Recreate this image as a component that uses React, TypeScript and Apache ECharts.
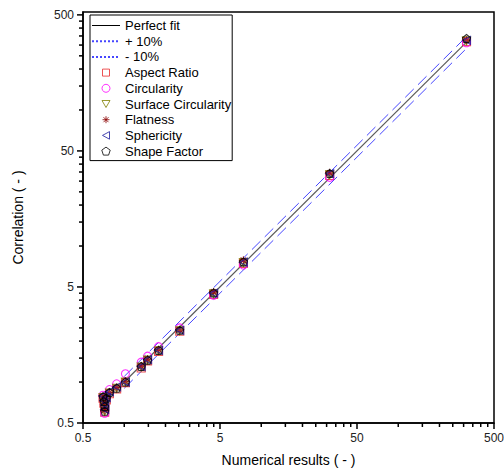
import React, { useEffect, useRef } from 'react';
import * as echarts from 'echarts';

// Axis ranges and tick values
const X_MIN = 0.5;
const X_MAX = 500;
const Y_MIN = 0.5;
const Y_MAX = 525;
const majorTicks = [0.5, 5, 50, 500];
const minorTicks = [
  1, 1.5, 2, 2.5, 3, 3.5, 4, 4.5,
  10, 15, 20, 25, 30, 35, 40, 45,
  100, 150, 200, 250, 300, 350, 400, 450,
];

// Reference lines
const fitX = [1.0, 315];
const fitY = [1.0, 315];
const plus10Y = [1.1, 346.5];
const minus10Y = [0.9, 283.5];

// Numerical results (x) shared by all correlations
const numerical = [0.70, 0.71, 0.72, 0.72, 0.74, 0.78, 0.88, 1.02, 1.33, 1.48, 1.78, 2.54, 4.49, 7.41, 31.6, 315];

// Correlation values (y)
const aspectRatio = [0.76, 0.70, 0.65, 0.60, 0.74, 0.82, 0.89, 0.99, 1.27, 1.43, 1.68, 2.36, 4.40, 7.45, 33.0, 318];
const circularity = [0.80, 0.74, 0.66, 0.59, 0.79, 0.88, 0.97, 1.15, 1.40, 1.55, 1.82, 2.50, 4.35, 7.25, 32.0, 312];
const surfaceCircularity = [0.77, 0.71, 0.66, 0.61, 0.75, 0.83, 0.90, 1.00, 1.29, 1.45, 1.70, 2.38, 4.45, 7.55, 33.5, 322];
const flatness = [0.78, 0.72, 0.67, 0.62, 0.76, 0.84, 0.91, 1.01, 1.31, 1.47, 1.73, 2.42, 4.60, 7.85, 34.5, 326];
const sphericity = [0.79, 0.73, 0.68, 0.63, 0.77, 0.85, 0.92, 1.00, 1.30, 1.46, 1.71, 2.40, 4.50, 7.60, 34.0, 325];
const shapeFactor = [0.78, 0.72, 0.66, 0.61, 0.76, 0.84, 0.90, 1.00, 1.30, 1.45, 1.71, 2.40, 4.52, 7.65, 34.2, 335];

const FONT = 'Liberation Sans, Arial, sans-serif';

const ASTERISK = 'path://M5,0L5,10M0,5L10,5M1.5,1.5L8.5,8.5M1.5,8.5L8.5,1.5';
const PENTAGON = 'path://M5,0L9.76,3.45L7.94,9.05L2.06,9.05L0.24,3.45Z';

// Legend icons (drawn inside a 28x8 box, symbol centred)
const ICON_RECT = 'path://M0,0M28,8M10.5,0.5L17.5,0.5L17.5,7.5L10.5,7.5Z';
const ICON_DOWN = 'path://M0,0M28,8M10,0.5L18,0.5L14,7.5Z';
const ICON_LEFT = 'path://M0,0M28,8M10.5,4L17.5,0.2L17.5,7.8Z';
const ICON_STAR = 'path://M0,0M28,8M14,0.5L14,7.5M10.5,4L17.5,4M11.5,1.5L16.5,6.5M11.5,6.5L16.5,1.5';

const scatterDefs = [
  { name: 'Aspect Ratio', ys: aspectRatio, color: '#e8282a', symbol: 'rect', rotate: 0, icon: ICON_RECT },
  { name: 'Circularity', ys: circularity, color: '#ff00ff', symbol: 'circle', rotate: 0, icon: 'circle' },
  { name: 'Surface Circularity', ys: surfaceCircularity, color: '#808000', symbol: 'triangle', rotate: 180, icon: ICON_DOWN },
  { name: 'Flatness', ys: flatness, color: '#8b0000', symbol: ASTERISK, rotate: 0, icon: ICON_STAR },
  { name: 'Sphericity', ys: sphericity, color: '#1c1c9c', symbol: 'triangle', rotate: 90, icon: ICON_LEFT },
  { name: 'Shape Factor', ys: shapeFactor, color: '#000000', symbol: PENTAGON, rotate: 0, icon: PENTAGON },
];

function tickSeries(values: number[], axis: 'x' | 'y', len: number) {
  return {
    type: 'custom',
    coordinateSystem: 'cartesian2d',
    silent: true,
    z: 6,
    clip: false,
    data: values.map((v) => (axis === 'x' ? [v, Y_MIN] : [X_MIN, v])),
    renderItem: (_params: any, api: any) => {
      const p = api.coord([api.value(0), api.value(1)]);
      const shape =
        axis === 'x'
          ? { x1: p[0], y1: p[1], x2: p[0], y2: p[1] + len }
          : { x1: p[0], y1: p[1], x2: p[0] - len, y2: p[1] };
      return { type: 'line', shape, style: { stroke: '#000', lineWidth: 1.5 } };
    },
  };
}

export default function App() {
  const ref = useRef<HTMLDivElement>(null);
  useEffect(() => {
    if (!ref.current) return;
    const chart = echarts.init(ref.current, undefined, { renderer: 'svg' });
    const lineSeries = [
      {
        name: 'Perfect fit',
        type: 'line',
        data: fitX.map((x, i) => [x, fitY[i]]),
        symbol: 'none',
        showSymbol: false,
        lineStyle: { color: '#5a5a5a', width: 1.2 },
        itemStyle: { color: '#5a5a5a' },
        z: 1,
      },
      {
        name: '+ 10%',
        type: 'line',
        data: fitX.map((x, i) => [x, plus10Y[i]]),
        symbol: 'none',
        showSymbol: false,
        lineStyle: { color: '#4646ff', width: 1, type: [12, 6] },
        itemStyle: { color: '#4646ff' },
        z: 1,
      },
      {
        name: '- 10%',
        type: 'line',
        data: fitX.map((x, i) => [x, minus10Y[i]]),
        symbol: 'none',
        showSymbol: false,
        lineStyle: { color: '#4646ff', width: 1, type: [12, 6] },
        itemStyle: { color: '#4646ff' },
        z: 1,
      },
    ];
    const scatters = scatterDefs.map((d) => ({
      name: d.name,
      type: 'scatter',
      data: numerical.map((x, i) => [x, d.ys[i]]),
      symbol: d.symbol,
      symbolRotate: d.rotate,
      symbolSize: 8,
      itemStyle: { color: 'rgba(0,0,0,0)', borderColor: d.color, borderWidth: 1.1 },
      z: 3,
    }));
    chart.setOption({
      animation: false,
      backgroundColor: '#fff',
      textStyle: { fontFamily: FONT },
      grid: {
        left: 83,
        right: 10,
        top: 12,
        bottom: 49,
        outerBoundsMode: 'none',
        containLabel: false,
        show: true,
        borderColor: '#000',
        borderWidth: 1.5,
        backgroundColor: 'transparent',
      },
      legend: {
        orient: 'vertical',
        left: 90,
        top: 15,
        padding: [4, 1, 3, 1],
        itemWidth: 28,
        itemHeight: 8,
        itemGap: 2.7,
        backgroundColor: '#fff',
        borderColor: '#000',
        borderWidth: 1,
        borderRadius: 0,
        textStyle: { fontFamily: FONT, fontSize: 13, color: '#000' },
        data: [
          { name: 'Perfect fit', itemStyle: { opacity: 0 }, lineStyle: { color: '#000', width: 1 } },
          { name: '+ 10%', itemStyle: { opacity: 0 }, lineStyle: { type: [2, 2] } },
          { name: '- 10%', itemStyle: { opacity: 0 }, lineStyle: { type: [2, 2] } },
          ...scatterDefs.map((d) => ({
            name: d.name,
            icon: d.icon,
            symbolRotate: 0,
            itemStyle: { color: 'rgba(0,0,0,0)', borderColor: d.color, borderWidth: 1 },
          })),
        ],
      },
      xAxis: {
        type: 'log',
        logBase: 10,
        min: X_MIN,
        max: X_MAX,
        name: 'Numerical results ( - )',
        nameLocation: 'middle',
        nameGap: 30,
        nameTextStyle: { fontFamily: FONT, fontSize: 14, color: '#000' },
        axisLine: { show: true, lineStyle: { color: '#000', width: 1.5 } },
        axisTick: { show: false },
        splitLine: { show: false },
        axisLabel: {
          customValues: majorTicks,
          fontFamily: FONT,
          fontSize: 12,
          color: '#222',
          margin: 9,
          hideOverlap: false,
          formatter: (v: number) => String(v),
        },
      },
      yAxis: {
        type: 'log',
        logBase: 10,
        min: Y_MIN,
        max: Y_MAX,
        name: 'Correlation ( - )',
        nameLocation: 'middle',
        nameGap: 58,
        nameRotate: 90,
        nameTextStyle: { fontFamily: FONT, fontSize: 14, color: '#000' },
        axisLine: { show: true, lineStyle: { color: '#000', width: 1.5 } },
        axisTick: { show: false },
        splitLine: { show: false },
        axisLabel: {
          customValues: majorTicks,
          fontFamily: FONT,
          fontSize: 12,
          color: '#222',
          margin: 9,
          formatter: (v: number) => String(v),
        },
      },
      series: [
        ...lineSeries,
        ...scatters,
        tickSeries(majorTicks, 'x', 6),
        tickSeries(minorTicks, 'x', 4),
        tickSeries(majorTicks, 'y', 6),
        tickSeries(minorTicks, 'y', 4),
      ],
    });
    return () => chart.dispose();
  }, []);
  return (
    <div
      ref={ref}
      style={{ position: 'fixed', left: 0, top: 0, width: 504, height: 472 }}
    />
  );
}
